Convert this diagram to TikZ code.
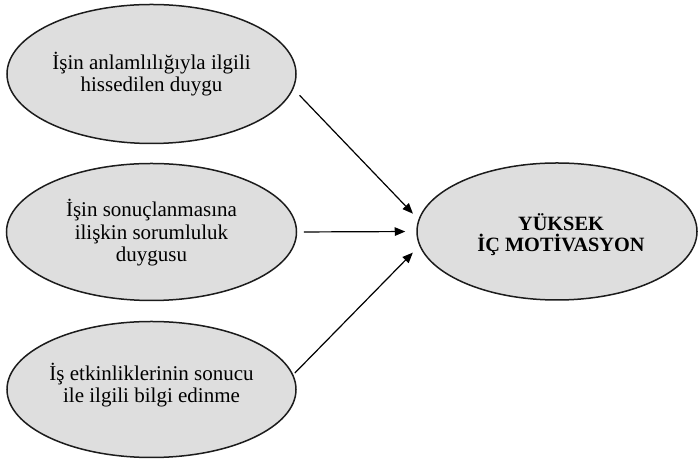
\documentclass[tikz,border=0pt]{standalone}
\usepackage{fontspec}
\setmainfont{Liberation Serif}
\usetikzlibrary{shapes.geometric,arrows.meta}
\definecolor{bubblefill}{RGB}{222,222,222}
\definecolor{inkline}{RGB}{28,28,28}
\begin{document}
\begin{tikzpicture}[x=1bp,y=1bp,
  bubble/.style={ellipse, draw=inkline, line width=1.5bp, fill=bubblefill,
    inner sep=0pt},
  caption/.style={align=center, inner sep=0pt, text=black,
    font=\fontsize{21bp}{22.5bp}\selectfont},
  goaltext/.style={caption, font=\fontsize{20.3bp}{21.5bp}\selectfont\bfseries},
  link/.style={draw=black, line width=1.2bp,
    -{Triangle[length=10.5bp,width=8.5bp]}}]
\useasboundingbox (0,0) rectangle (698,464);

% three factors on the left
\node[bubble, minimum width=289bp, minimum height=139bp] (e1) at (151.5,390) {};
\node[bubble, minimum width=290bp, minimum height=137bp] (e2) at (151.5,232) {};
\node[bubble, minimum width=289bp, minimum height=136bp] (e3) at (151.5,74.5) {};
\node[caption] (t1) at (e1) {İşin anlamlılığıyla ilgili\\hissedilen duygu};
\node[caption] (t2) at ([yshift=-1bp]e2) {İşin sonuçlanmasına\\ilişkin sorumluluk\\duygusu};
\node[caption] (t3) at ([yshift=4.5bp]e3) {İş etkinliklerinin sonucu\\ile ilgili bilgi edinme};

% outcome on the right
\node[bubble, minimum width=280bp, minimum height=137bp] (e4) at (557,232.5) {};
\node[goaltext] (t4) at ([xshift=4bp,yshift=-3bp]e4) {YÜKSEK\\İÇ MOTİVASYON};

% arrows into the outcome
\draw[link, shorten <=8.8bp, shorten >=7.9bp] (e1.-6.65) -- (e4.175.5);
\draw[link, shorten <=6.5bp, shorten >=11bp] (e2.east) -- (e4.west);
\draw[link, shorten <=2bp, shorten >=9.3bp] (e3.6.5) -- (e4.-174.7);
\end{tikzpicture}
\end{document}
